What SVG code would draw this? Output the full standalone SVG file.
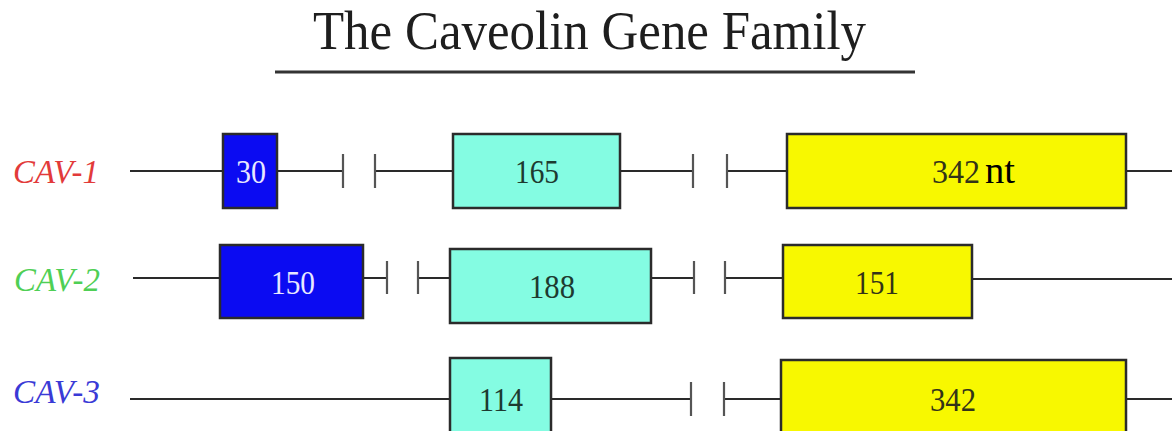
<svg xmlns="http://www.w3.org/2000/svg" width="1172" height="431" viewBox="0 0 1172 431">
<style>
.ln{stroke:#2a2a2a;stroke-width:2.2;fill:none}
.tk{stroke:#555;stroke-width:2.2;fill:none}
.box{stroke:#2b2b2b;stroke-width:2.5}
.b1{fill:#0b0bf2}
.b2{fill:#84fce2}
.b3{fill:#f8f800}
.num{font-family:"Liberation Serif",serif;font-size:34px;text-anchor:middle}
.lab{font-family:"Liberation Serif",serif;font-size:33px;font-style:italic}
</style>
<rect width="1172" height="431" fill="#fff"/>
<g id="title">
<text x="313" y="49" font-family="Liberation Serif, serif" font-size="54" fill="#1e1e1e" textLength="553" lengthAdjust="spacingAndGlyphs">The Caveolin Gene Family</text>
<line x1="275" y1="72" x2="915" y2="72" stroke="#333" stroke-width="3"/>
</g>
<g id="connectors">
<path class="ln" d="M130 171H223M277 171H343M375 171H453M620 171H693M727 171H787M1126 171H1172"/>
<path class="tk" d="M343 154V188M375 154V188M693 154V188M727 154V188"/>
<path class="ln" d="M133 278H220M363 278H387M418 278H450M651 278H694M725 278H783M972 279H1172"/>
<path class="tk" d="M387 261V294M418 261V294M694 261V294M725 261V294"/>
<path class="ln" d="M130 399H450M551 399H691M724 399H781M1126 399H1172"/>
<path class="tk" d="M691 382V416M724 382V416"/>
</g>
<g id="cav1-label"><text class="lab" x="13" y="183" fill="#e23a3a" textLength="86" lengthAdjust="spacingAndGlyphs">CAV-1</text></g>
<g id="cav1-e1"><rect class="box b1" x="223" y="134" width="54" height="74"/><text class="num" x="251" y="183" fill="#e8e8ff" textLength="30" lengthAdjust="spacingAndGlyphs">30</text></g>
<g id="cav1-e2"><rect class="box b2" x="453" y="134" width="167" height="74"/><text class="num" x="537" y="183" fill="#1d3a30" textLength="44" lengthAdjust="spacingAndGlyphs">165</text></g>
<g id="cav1-e3"><rect class="box b3" x="787" y="134" width="339" height="74"/><text class="num" x="956" y="183" fill="#333318" textLength="48" lengthAdjust="spacingAndGlyphs">342</text><text x="985" y="183" font-family="Liberation Serif, serif" font-size="38" fill="#000" textLength="30" lengthAdjust="spacingAndGlyphs">nt</text></g>
<g id="cav2-label"><text class="lab" x="14" y="291" fill="#4fcf55" textLength="86" lengthAdjust="spacingAndGlyphs">CAV-2</text></g>
<g id="cav2-e1"><rect class="box b1" x="220" y="245" width="143" height="73"/><text class="num" x="293" y="294" fill="#e8e8ff" textLength="44" lengthAdjust="spacingAndGlyphs">150</text></g>
<g id="cav2-e2"><rect class="box b2" x="450" y="249" width="201" height="74"/><text class="num" x="552" y="298" fill="#1d3a30" textLength="46" lengthAdjust="spacingAndGlyphs">188</text></g>
<g id="cav2-e3"><rect class="box b3" x="783" y="245" width="189" height="73"/><text class="num" x="877" y="294" fill="#333318" textLength="44" lengthAdjust="spacingAndGlyphs">151</text></g>
<g id="cav3-label"><text class="lab" x="13" y="403" fill="#3a3ad6" textLength="87" lengthAdjust="spacingAndGlyphs">CAV-3</text></g>
<g id="cav3-e1"><rect class="box b2" x="450" y="358" width="101" height="80"/><text class="num" x="501" y="411" fill="#1d3a30" textLength="44" lengthAdjust="spacingAndGlyphs">114</text></g>
<g id="cav3-e2"><rect class="box b3" x="781" y="360" width="345" height="80"/><text class="num" x="953" y="411" fill="#333318" textLength="46" lengthAdjust="spacingAndGlyphs">342</text></g>
</svg>
